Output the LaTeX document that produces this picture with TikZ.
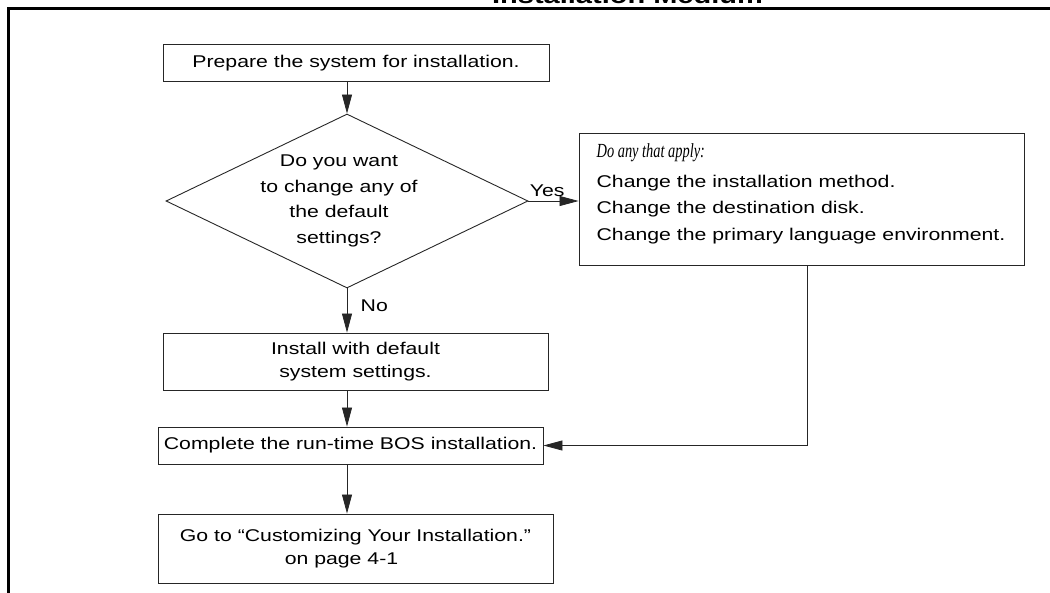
\documentclass[tikz,border=0pt]{standalone}
\usepackage{fontspec}
\setmainfont{Liberation Sans}[FakeStretch=1.25]
\newfontfamily\applyfont{Liberation Serif}[FakeStretch=0.72]
\usetikzlibrary{arrows.meta,shapes.geometric}
\begin{document}
\begin{tikzpicture}[x=1pt, y=-1pt,
    box/.style={draw=black!85, line width=0.9pt, inner sep=0pt},
    flow/.style={-{Triangle[length=19pt,width=10pt]}, line width=0.8pt, draw=black!85},
    txt/.style={align=center, font=\fontsize{17pt}{23.3pt}\selectfont}]
    \useasboundingbox (0,0) rectangle (1050,592);

    % Marco y titulo
    \draw[line width=2.6pt] (8.3,8.3) rectangle (1070,610);
    \node[anchor=base, inner sep=0pt, font=\fontsize{23.2pt}{28pt}\selectfont\bfseries] (title) at (627.5,3) {Installation Medium};

    % Cajas
    \node[box, txt, minimum width=386pt, minimum height=37pt] (prep) at (356,63) {Prepare the system for installation.};
    \node[box, diamond, minimum width=362pt, minimum height=174pt] (dec) at (347,201) {};
    \node[txt, font=\fontsize{17pt}{25.7pt}\selectfont] (dectext) at (339,201) {Do you want\\to change any of\\the default\\settings?};
    \node[box, minimum width=445pt, minimum height=132pt] (apply) at (801.5,199) {};
    \node[align=left, font=\fontsize{17pt}{26.5pt}\selectfont] (applytext) at (801,194)
        {{\applyfont\itshape\fontsize{20pt}{26.5pt}\selectfont Do any that apply:}\\[3pt]
         Change the installation method.\\
         Change the destination disk.\\
         Change the primary language environment.};
    \node[box, txt, minimum width=385pt, minimum height=57pt] (inst) at (355.5,361.5) {Install with default\\system settings.};
    \node[box, txt, minimum width=385pt, minimum height=37pt] (done) at (350.5,445.5) {Complete the run-time BOS installation.};
    \node[box, txt, minimum width=395pt, minimum height=69pt] (goto) at (355.5,548.5) {Go to “Customizing Your Installation.”\\on page 4-1\hspace*{28pt}};

    % Flechas
    \draw[flow] (prep.south -| dec.north) -- (dec.north);
    \draw[flow] (dec.east) -- (apply.west |- dec.east)
        node[pos=0, anchor=base west, inner sep=0pt, xshift=1pt, yshift=5pt, font=\fontsize{17pt}{20pt}\selectfont] {Yes};
    \draw[flow] (dec.south) -- (inst.north -| dec.south)
        node[midway, right=10pt, yshift=5pt, font=\fontsize{17pt}{20pt}\selectfont] {No};
    \draw[flow] (inst.south -| dec.south) -- (done.north -| dec.south);
    \draw[flow] (done.south -| dec.south) -- (goto.north -| dec.south);
    \draw[flow] ([xshift=5.5pt]apply.south) |- (done.east);
\end{tikzpicture}
\end{document}
